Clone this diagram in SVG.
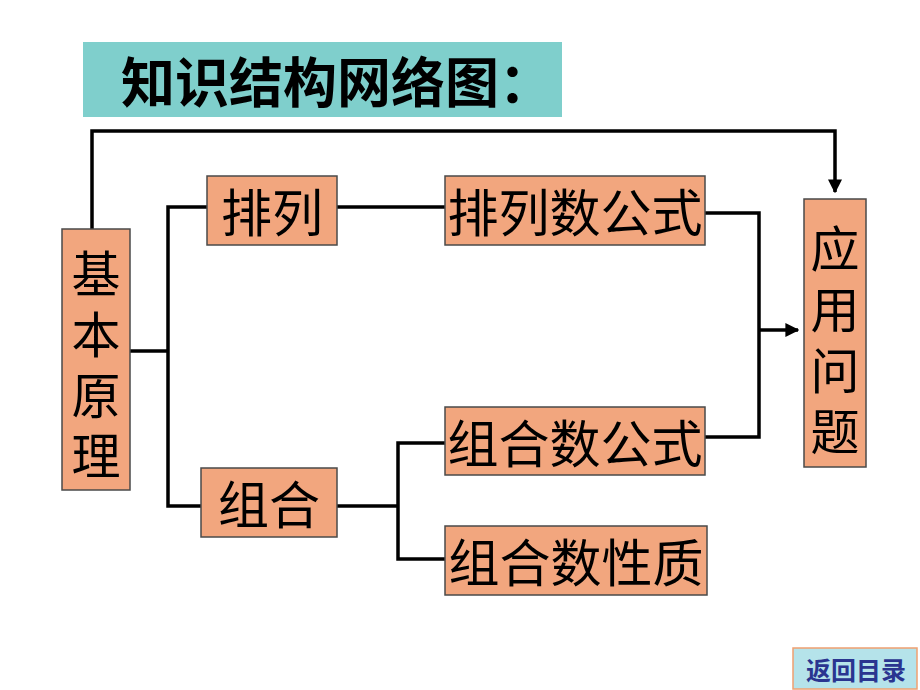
<svg xmlns="http://www.w3.org/2000/svg" width="920" height="690" viewBox="0 0 920 690">
<defs>
<style>
.box{fill:#f2a67e;stroke:#4a4a4a;stroke-width:1.5}
.t{font-family:"Noto Sans CJK SC","Noto Sans CJK JP",sans-serif;font-size:51px;fill:#000;text-anchor:middle;dominant-baseline:central}
.tv{font-family:"Noto Sans CJK SC","Noto Sans CJK JP",sans-serif;font-size:49px;fill:#000;text-anchor:middle;dominant-baseline:central}
.ln{fill:none;stroke:#000;stroke-width:3.5;stroke-linejoin:miter}
</style>
<marker id="ah" viewBox="0 0 10 10" refX="9" refY="5" markerWidth="4" markerHeight="4" orient="auto" markerUnits="strokeWidth">
<path d="M0,0 L10,5 L0,10 z" fill="#000"/>
</marker>
</defs>
<rect width="920" height="690" fill="#fff"/>
<g id="title">
<rect x="83" y="42" width="479" height="75" fill="#7fcfcc"/>
<text x="121" y="79" font-family="'Noto Sans CJK SC',sans-serif" font-size="54" font-weight="bold" dominant-baseline="central">知识结构网络图：</text>
</g>
<g id="connectors">
<polyline class="ln" points="92,229 92,131 835,131 835,192" marker-end="url(#ah)"/>
<polyline class="ln" points="130,351 168,351"/>
<polyline class="ln" points="207,207 168,207 168,506 201,506"/>
<polyline class="ln" points="337,207 445,207"/>
<polyline class="ln" points="705,213 759,213 759,437 705,437"/>
<polyline class="ln" points="759,330 798,330" marker-end="url(#ah)"/>
<polyline class="ln" points="337,506 398,506"/>
<polyline class="ln" points="445,443 398,443 398,559 445,559"/>
</g>
<g id="n-jiben">
<rect class="box" x="62" y="229" width="68" height="261"/>
<text class="tv" x="96" y="270">基</text>
<text class="tv" x="96" y="331">本</text>
<text class="tv" x="96" y="392">原</text>
<text class="tv" x="96" y="452">理</text>
</g>
<g id="n-pailie">
<rect class="box" x="207" y="176" width="130" height="69"/>
<text class="t" x="272" y="210">排列</text>
</g>
<g id="n-pailieshu">
<rect class="box" x="445" y="176" width="260" height="69"/>
<text class="t" x="575" y="210">排列数公式</text>
</g>
<g id="n-yingyong">
<rect class="box" x="804" y="199" width="62" height="268"/>
<text class="tv" x="835" y="245" font-size="47">应</text>
<text class="tv" x="835" y="306" font-size="47">用</text>
<text class="tv" x="835" y="367" font-size="47">问</text>
<text class="tv" x="835" y="428" font-size="47">题</text>
</g>
<g id="n-zuhe">
<rect class="box" x="201" y="468" width="136" height="69"/>
<text class="t" x="269" y="502">组合</text>
</g>
<g id="n-zuheshu">
<rect class="box" x="445" y="407" width="260" height="68"/>
<text class="t" x="575" y="441">组合数公式</text>
</g>
<g id="n-xingzhi">
<rect class="box" x="445" y="526" width="262" height="69"/>
<text class="t" x="576" y="560">组合数性质</text>
</g>
<g id="btn-back">
<rect x="793" y="648" width="124" height="41" fill="#b5e3ea" stroke="#f0a070" stroke-width="1.5"/>
<text x="856" y="669" font-family="'Noto Sans CJK SC',sans-serif" font-size="25" font-weight="bold" fill="#2a3590" text-anchor="middle" dominant-baseline="central">返回目录</text>
</g>
</svg>
